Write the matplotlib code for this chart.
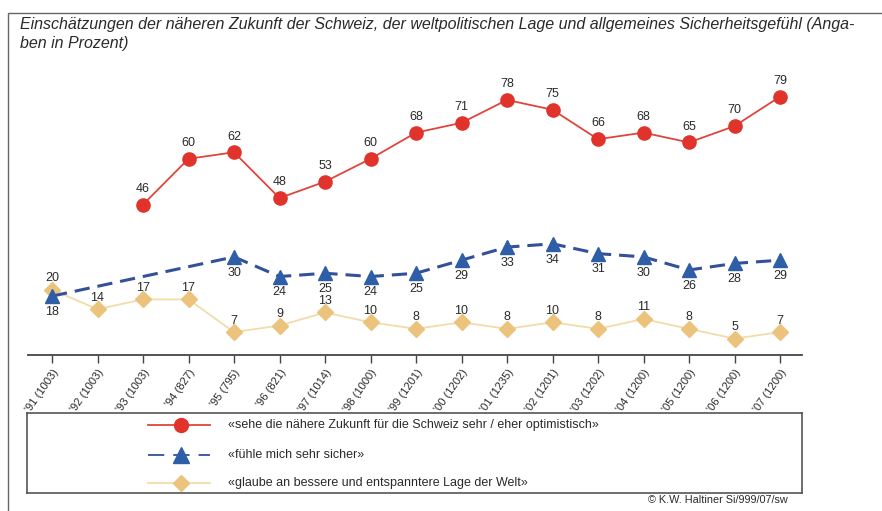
import numpy as np
import matplotlib
matplotlib.use("Agg")
import matplotlib.pyplot as plt
from matplotlib.patches import Rectangle

plt.rcParams['font.family'] = ['Liberation Sans', 'DejaVu Sans']

years = ["'91 (1003)", "'92 (1003)", "'93 (1003)", "'94 (827)", "'95 (795)", "'96 (821)",
         "'97 (1014)", "'98 (1000)", "'99 (1201)", "'00 (1202)", "'01 (1235)", "'02 (1201)",
         "'03 (1202)", "'04 (1200)", "'05 (1200)", "'06 (1200)", "'07 (1200)"]
optimistisch = [None, None, 46, 60, 62, 48, 53, 60, 68, 71, 78, 75, 66, 68, 65, 70, 79]
sicher = [18, None, None, None, 30, 24, 25, 24, 25, 29, 33, 34, 31, 30, 26, 28, 29]
welt = [20, 14, 17, 17, 7, 9, 13, 10, 8, 10, 8, 10, 8, 11, 8, 5, 7]

legend_labels = ["«sehe die nähere Zukunft für die Schweiz sehr / eher optimistisch»",
                 "«fühle mich sehr sicher»",
                 "«glaube an bessere und entspanntere Lage der Welt»"]
title = ("Einschätzungen der näheren Zukunft der Schweiz, der weltpolitischen Lage und allgemeines Sicherheitsgefühl (Anga-\n"
         "ben in Prozent)")
credit = "© K.W. Haltiner Si/999/07/sw"

W, H = 882, 511
fig = plt.figure(figsize=(W / 100, H / 100), dpi=100)

RED = '#e0332b'
RED_LINE = '#e0453d'
BLUE = '#2e5ea8'
BLUE_LINE = '#34509a'
YEL = '#ebc37c'
YEL_LINE = '#f1dcaa'
TXT = '#2a2a2a'

# outer frame
fig.patches.append(Rectangle((8 / W, -0.05), 1.2, 1 - 13 / H + 0.05, transform=fig.transFigure,
                             fill=False, edgecolor='#666666', linewidth=1.0))

fig.text(20 / W, 1 - 17 / H, title, ha='left', va='top', fontsize=11.5, style='italic',
         color=TXT, linespacing=1.3)

# main axes
x0, x1 = 28, 802
y_zero, y_top = 355, 60
ax = fig.add_axes([x0 / W, 1 - y_zero / H, (x1 - x0) / W, (y_zero - y_top) / H])
px_per_idx = 45.5
first_tick = 52
ax.set_xlim((x0 - first_tick) / px_per_idx, (x1 - first_tick) / px_per_idx)
px_per_unit = 3.27
ax.set_ylim(0, (y_zero - y_top) / px_per_unit)

idx = np.arange(len(years))


def series(vals):
    xs = [i for i, v in zip(idx, vals) if v is not None]
    ys = [v for v in vals if v is not None]
    return np.array(xs), np.array(ys)


xr, yr = series(optimistisch)
xb, yb = series(sicher)
xy, yy = series(welt)

ax.plot(xy, yy, color=YEL_LINE, lw=1.3, zorder=2)
ax.plot(xy, yy, ls='none', marker='D', ms=8.5, mfc=YEL, mec=YEL, zorder=3)
ax.plot(xb, yb, color=BLUE_LINE, lw=2.2, dashes=(5, 2.6), zorder=4)
ax.plot(xb, yb, ls='none', marker='^', ms=10, mfc=BLUE, mec=BLUE, zorder=5)
ax.plot(xr, yr, color=RED_LINE, lw=1.3, zorder=6)
ax.plot(xr, yr, ls='none', marker='o', ms=9.5, mfc=RED, mec=RED, zorder=7)

for x, y in zip(xr, yr):
    ax.annotate(str(y), (x, y), xytext=(0, 7), textcoords='offset points', ha='center',
                va='bottom', fontsize=9, color=TXT)
for x, y in zip(xb, yb):
    ax.annotate(str(y), (x, y), xytext=(0, -7), textcoords='offset points', ha='center',
                va='top', fontsize=9, color=TXT)
for x, y in zip(xy, yy):
    ax.annotate(str(y), (x, y), xytext=(0, 4), textcoords='offset points', ha='center',
                va='bottom', fontsize=9, color=TXT)

for s in ['top', 'right', 'left']:
    ax.spines[s].set_visible(False)
ax.spines['bottom'].set_color('#444444')
ax.spines['bottom'].set_linewidth(1.3)
ax.set_yticks([])
ax.set_xticks(idx)
ax.set_xticklabels(years, rotation=55, ha='right', rotation_mode='anchor', fontsize=8, color=TXT)
ax.tick_params(axis='x', length=6, width=1, color='#444444', pad=3)
ax.patch.set_alpha(0)

# legend box
lx0, lx1, ly_top, ly_bot = 27, 802, 413, 493
lax = fig.add_axes([lx0 / W, 1 - ly_bot / H, (lx1 - lx0) / W, (ly_bot - ly_top) / H])
lax.set_xlim(lx0, lx1)
lax.set_ylim(ly_bot, ly_top)
lax.set_xticks([]); lax.set_yticks([])
for s in lax.spines.values():
    s.set_color('#555555'); s.set_linewidth(1.2)
rows = [425, 455, 483]
styles = [
    dict(color=RED_LINE, lw=1.3, marker='o', ms=10, mfc=RED, mec=RED),
    dict(color=BLUE_LINE, lw=1.3, dashes=(9, 5), marker='^', ms=11, mfc=BLUE, mec=BLUE),
    dict(color=YEL_LINE, lw=1.3, marker='D', ms=8.5, mfc=YEL, mec=YEL),
]
for yrow, st, lab in zip(rows, styles, legend_labels):
    st = dict(st)
    mk = dict(marker=st.pop('marker'), ms=st.pop('ms'), mfc=st.pop('mfc'), mec=st.pop('mec'))
    lax.plot([148, 210], [yrow, yrow], **st)
    lax.plot([181], [yrow], ls='none', **mk)
    lax.text(228, yrow, lab, va='center', ha='left', fontsize=9, color=TXT)

fig.text(718 / W, 1 - 500 / H, credit, ha='center', va='center', fontsize=7.8, color=TXT)

fig.savefig('out.png', dpi=100)
